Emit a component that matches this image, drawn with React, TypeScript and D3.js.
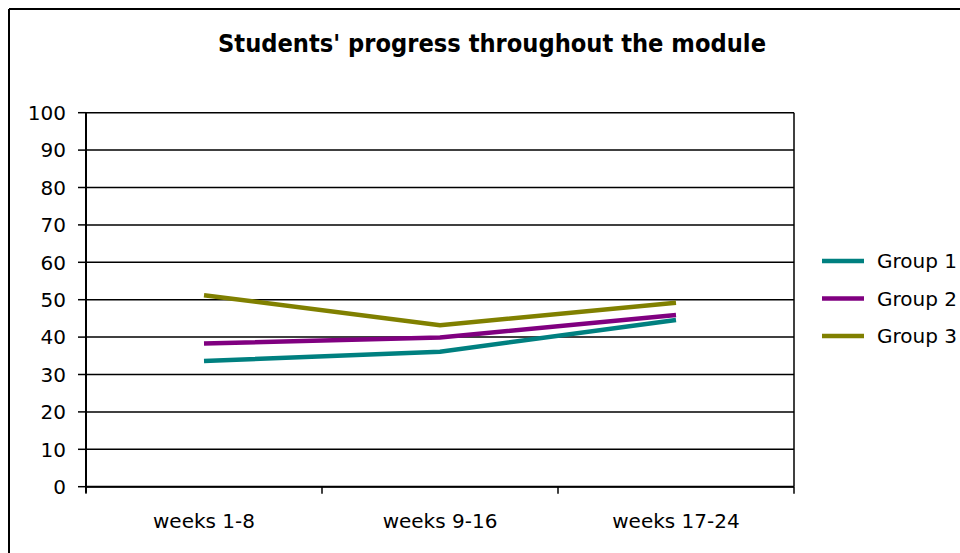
import React from "react";
import * as d3 from "d3";

const categories = ["weeks 1-8", "weeks 9-16", "weeks 17-24"];
const seriesNames = ["Group 1", "Group 2", "Group 3"];
const group1 = [33.6, 36.1, 44.6];
const group2 = [38.3, 39.9, 45.9];
const group3 = [51.2, 43.2, 49.2];
const yTicks = [0, 10, 20, 30, 40, 50, 60, 70, 80, 90, 100];
const colors = ["#008080", "#800080", "#808000"];
const title = "Students' progress throughout the module";

const W = 960;
const H = 553;
const FONT = "'DejaVu Sans', Verdana, sans-serif";

export default function App() {
  const left = 86, right = 794, top = 112.7, bottom = 486.7;
  const x = d3.scaleBand<string>().domain(categories).range([left, right]);
  const y = d3.scaleLinear().domain([0, 100]).range([bottom, top]);
  const series = [group1, group2, group3];
  const line = d3
    .line<number>()
    .x((_, i) => (x(categories[i]) as number) + x.bandwidth() / 2)
    .y((d) => y(d));
  const tickXs = [...categories.map((c) => x(c) as number), right];
  const legY = d3.scaleLinear().domain([0, 1]).range([261, 298.5]);

  return (
    <svg
      width={W}
      height={H}
      style={{ position: "absolute", left: 0, top: 0, background: "#fff" }}
      fontFamily={FONT}
    >
      <rect x={0} y={0} width={W} height={H} fill="#fff" />
      {/* outer border */}
      <line x1={9} y1={9} x2={W} y2={9} stroke="#000" strokeWidth={2} />
      <line x1={9} y1={9} x2={9} y2={H} stroke="#000" strokeWidth={2} />
      <text
        x={492}
        y={51.7}
        textAnchor="middle"
        fontWeight="bold"
        fontSize={24}
        textLength={548}
        lengthAdjust="spacingAndGlyphs"
        fill="#000"
      >
        {title}
      </text>
      {/* gridlines */}
      {yTicks.map((t) => (
        <g key={t}>
          <line x1={left} x2={right} y1={y(t)} y2={y(t)} stroke="#000" strokeWidth={1.5} />
          <line x1={left - 8} x2={left} y1={y(t)} y2={y(t)} stroke="#000" strokeWidth={1.5} />
          <text x={66} y={y(t)} dy="0.36em" textAnchor="end" fontSize={20} fill="#000">
            {t}
          </text>
        </g>
      ))}
      {/* plot frame */}
      <line x1={right} x2={right} y1={top} y2={bottom} stroke="#000" strokeWidth={1.5} />
      <line x1={left} x2={left} y1={top} y2={bottom + 6} stroke="#000" strokeWidth={2} />
      <line x1={left} x2={right} y1={bottom} y2={bottom} stroke="#000" strokeWidth={2} />
      {tickXs.map((tx, i) => (
        <line key={i} x1={tx} x2={tx} y1={bottom} y2={bottom + 7} stroke="#000" strokeWidth={1.5} />
      ))}
      {categories.map((c) => (
        <text
          key={c}
          x={(x(c) as number) + x.bandwidth() / 2}
          y={527.7}
          textAnchor="middle"
          fontSize={20}
          fill="#000"
        >
          {c}
        </text>
      ))}
      {/* series */}
      {series.map((s, i) => (
        <path key={i} d={line(s) || ""} fill="none" stroke={colors[i]} strokeWidth={4.5} />
      ))}
      {/* legend */}
      {seriesNames.map((n, i) => (
        <g key={n}>
          <line x1={822} x2={864} y1={legY(i)} y2={legY(i)} stroke={colors[i]} strokeWidth={4.5} />
          <text x={877} y={legY(i)} dy="0.36em" fontSize={20} fill="#000">
            {n}
          </text>
        </g>
      ))}
    </svg>
  );
}
